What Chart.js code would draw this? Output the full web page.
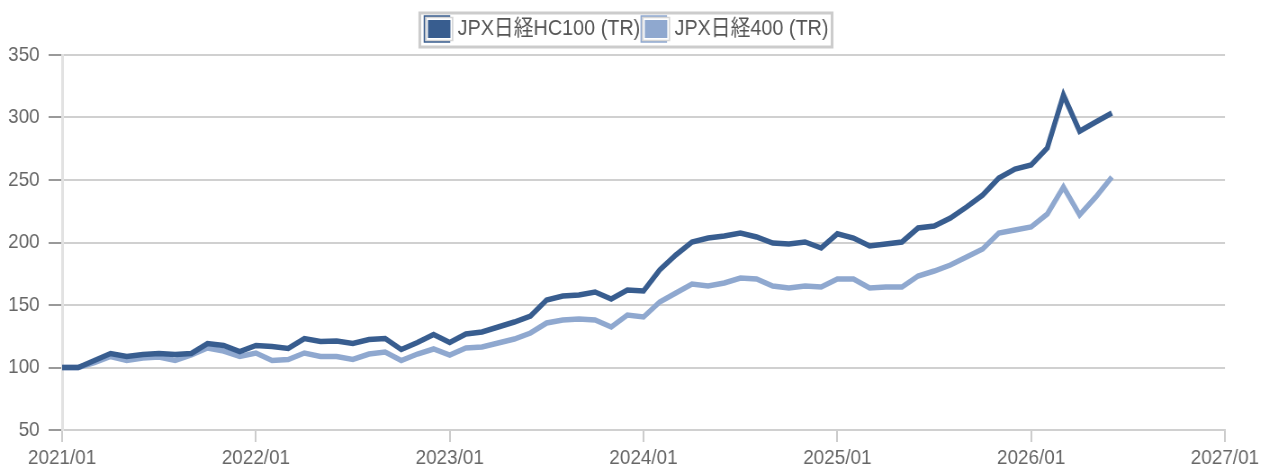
<!DOCTYPE html>
<html>
<head>
<meta charset="utf-8">
<script src="https://cdn.jsdelivr.net/npm/chart.js@4"></script>
<style>
  html, body { margin: 0; padding: 0; background: #fff; overflow: hidden; }
  /* the reference is a bit squeezed horizontally, so draw wider and squeeze */
  #wrap { width: 1403px; height: 469px; transform: scaleX(0.9); transform-origin: 0 0; }
</style>
</head>
<body>
<div id="wrap"><canvas id="myChart"></canvas></div>
<script>
const seriesNames = ['JPX日経HC100 (TR)', 'JPX日経400 (TR)'];
const seriesColors = ['#385d8f', '#8fa8cf'];
const tickLabels = ['2021/01', '2022/01', '2023/01', '2024/01', '2025/01', '2026/01', '2027/01'];

// monthly values, 2021/01 .. 2026/06
const hc100 = [
    100, 100, 105.6, 111.2, 108.8, 110.4, 111.2, 110.4, 111.2, 119.2, 117.6, 112.8,
    117.6, 116.8, 115.2, 123.2, 120.8, 121.2, 119.2, 122.4, 123.2, 114.4, 120, 126.4,
    120, 126.8, 128.4, 132.4, 136.4, 141.2, 154, 157.2, 158, 160.4, 154.8, 162,
    161.2, 178, 190, 200.4, 203.6, 205.2, 207.6, 204.4, 199.6, 198.8, 200.4, 195.6,
    207, 203.6, 197.2, 198.8, 200.4, 211.6, 213.2, 219.6, 228.4, 238, 251.6, 258.8,
    262, 275.6, 318, 289, 296.4, 303.6
];
const nikkei400 = [
    100, 100, 104, 108.8, 105.6, 107.6, 108.4, 105.6, 110, 115.6, 113.2, 108.8,
    111.6, 105.6, 106.4, 111.6, 108.8, 108.8, 106.4, 110.8, 112.4, 105.6, 110.8, 114.8,
    110, 115.6, 116.4, 119.6, 122.8, 127.6, 135.6, 138, 138.8, 138, 132.4, 142,
    140.4, 152.4, 159.6, 166.8, 165.2, 167.6, 171.6, 170.8, 165.2, 163.6, 165.2, 164.4,
    170.8, 170.8, 163.6, 164.4, 164.4, 173.2, 177.2, 182, 188.4, 194.8, 207.6, 210,
    212.4, 222.8, 244.4, 222, 236.4, 252.4
];

const FONT = "'Liberation Sans', Arial, 'Noto Sans CJK JP', sans-serif";

// legend frame + wider boxes with rings, legend nudged a little to the right
const legendFrame = {
    id: 'legendFrame',
    beforeInit(chart) {
        const origFit = chart.legend.fit;
        chart.legend.fit = function () {
            origFit.bind(chart.legend)();
            this.height += 5;
        };
    },
    afterLayout(chart) {
        chart.legend.left += 14;
        chart.legend.right += 14;
    },
    afterDraw(chart) {
        const boxes = chart.legend.legendHitBoxes;
        if (!boxes || !boxes.length) return;
        const ctx = chart.ctx;
        const left = boxes[0].left - 7;
        const last = boxes[boxes.length - 1];
        const right = last.left + last.width + 4;
        const top = boxes[0].top - 5;
        const bottom = boxes[0].top + 29;
        ctx.save();
        ctx.strokeStyle = '#cccccc';
        ctx.lineWidth = 3;
        ctx.strokeRect(left, top, right - left, bottom - top);
        boxes.forEach((b, i) => {
            ctx.fillStyle = seriesColors[i];
            ctx.fillRect(b.left, b.top, 29, 22);
            ctx.strokeStyle = '#ffffff';
            ctx.lineWidth = 2;
            ctx.strokeRect(b.left + 1, b.top + 1, 27, 20);
            ctx.strokeStyle = '#d6d6d6';
            ctx.lineWidth = 1.5;
            ctx.strokeRect(b.left - 0.5, b.top - 0.5, 30, 23);
        });
        ctx.restore();
    }
};

const ctx = document.getElementById('myChart').getContext('2d');

const myChart = new Chart(ctx, {
    type: 'line',
    data: {
        datasets: [{
            label: seriesNames[0],
            data: hc100.map((v, i) => ({ x: i, y: v })),
            borderColor: seriesColors[0],
            backgroundColor: seriesColors[0],
            borderWidth: 5.5,
            pointRadius: 0,
            tension: 0
        }, {
            label: seriesNames[1],
            data: nikkei400.map((v, i) => ({ x: i, y: v })),
            borderColor: seriesColors[1],
            backgroundColor: seriesColors[1],
            borderWidth: 5.5,
            pointRadius: 0,
            tension: 0
        }]
    },
    options: {
        responsive: true,
        maintainAspectRatio: false,
        animation: false,
        layout: {
            padding: { top: 15, bottom: 0, left: 0, right: 37 }
        },
        plugins: {
            legend: {
                position: 'top',
                labels: {
                    boxWidth: 24,
                    boxHeight: 22,
                    padding: 3,
                    color: '#555',
                    font: { family: FONT, size: 22 }
                }
            },
            tooltip: { enabled: false }
        },
        scales: {
            x: {
                type: 'linear',
                min: 0,
                max: 72,
                afterFit: s => { s.height = 39; },
                border: { color: '#d0d0d0', width: 2 },
                grid: {
                    drawOnChartArea: false,
                    drawTicks: true,
                    tickLength: 12,
                    tickColor: '#cccccc',
                    lineWidth: 2
                },
                ticks: {
                    stepSize: 12,
                    autoSkip: false,
                    maxRotation: 0,
                    padding: 4,
                    color: '#666',
                    font: { family: FONT, size: 21 },
                    callback: v => tickLabels[v / 12]
                }
            },
            y: {
                min: 50,
                max: 350,
                afterFit: s => { s.width = 69; },
                border: { color: '#e2e2e2', width: 3 },
                grid: {
                    color: '#d0d0d0',
                    lineWidth: 2,
                    drawTicks: true,
                    tickLength: 15,
                    tickColor: '#999999'
                },
                ticks: {
                    stepSize: 50,
                    padding: 10,
                    color: '#666',
                    font: { family: FONT, size: 21 }
                }
            }
        }
    },
    plugins: [legendFrame]
});
</script>
</body>
</html>
